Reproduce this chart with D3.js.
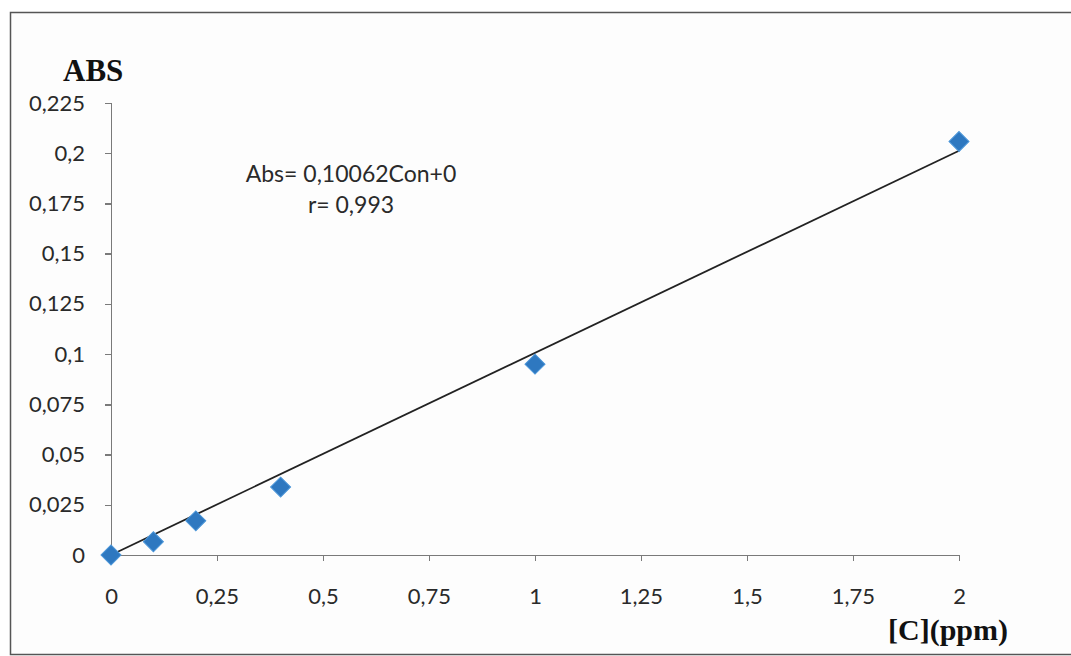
<html>
<head>
<meta charset="utf-8">
<title>ABS vs [C]</title>
<style>
  body { margin: 0; background: #fff; }
  .axis path, .axis line { fill: none; stroke: #7a7a7a; stroke-width: 1.5; shape-rendering: crispEdges; }
  .axis text { font-family: Lato, "Open Sans", sans-serif; font-size: 22px; fill: #2a2a2a; }
</style>
</head>
<body>
<script src="https://cdnjs.cloudflare.com/ajax/libs/d3/7.8.5/d3.min.js"></script>
<script>
var width = 1071, height = 656;

// data
var conc = [0, 0.1, 0.2, 0.4, 1, 2];
var absVals = [0, 0.0066, 0.017, 0.0338, 0.095, 0.2058];
var xTicks = [0, 0.25, 0.5, 0.75, 1, 1.25, 1.5, 1.75, 2];
var yTicks = [0, 0.025, 0.05, 0.075, 0.1, 0.125, 0.15, 0.175, 0.2, 0.225];
var slope = 0.10062, intercept = 0;
var eqLines = ["Abs= 0,10062Con+0", "r= 0,993"];

var svg = d3.select("body").append("svg")
    .attr("width", width)
    .attr("height", height);

// outer frame
svg.append("rect")
    .attr("x", 10.5).attr("y", 12.5)
    .attr("width", 1070).attr("height", 642)
    .attr("fill", "#fdfdfd")
    .attr("stroke", "#555").attr("stroke-width", 1.5);

var x = d3.scaleLinear().domain([0, 2]).range([111, 959]);
var y = d3.scaleLinear().domain([0, 0.225]).range([555, 103]);

var fmt = function(d) { return String(d).replace(".", ","); };

svg.append("g")
    .attr("class", "axis")
    .attr("transform", "translate(0," + y(0) + ")")
    .call(d3.axisBottom(x).tickValues(xTicks).tickFormat(fmt).tickSize(6).tickSizeOuter(6).tickPadding(27));

svg.append("g")
    .attr("class", "axis")
    .attr("transform", "translate(" + x(0) + ",0)")
    .call(d3.axisLeft(y).tickValues(yTicks).tickFormat(fmt).tickSize(6).tickSizeOuter(6).tickPadding(20));

// trend line
svg.append("line")
    .attr("x1", x(0)).attr("y1", y(intercept))
    .attr("x2", x(2)).attr("y2", y(intercept + slope * 2))
    .attr("stroke", "#222").attr("stroke-width", 1.8);

// data points (diamonds)
var diamond = d3.symbol().type(d3.symbolSquare).size(200);
svg.selectAll("path.pt")
    .data(conc)
    .enter().append("path")
    .attr("class", "pt")
    .attr("d", diamond)
    .attr("transform", function(d, i) {
        return "translate(" + x(d) + "," + y(absVals[i]) + ") rotate(45)";
    })
    .attr("fill", "#2e78c0")
    .attr("stroke", "#4a95d8").attr("stroke-width", 1);

// equation
svg.selectAll("text.eq")
    .data(eqLines)
    .enter().append("text")
    .attr("class", "eq")
    .attr("x", 351)
    .attr("y", function(d, i) { return 182 + i * 31; })
    .attr("text-anchor", "middle")
    .style("font-family", "Lato, 'Open Sans', sans-serif")
    .style("font-size", "23px")
    .style("fill", "#2a2a2a")
    .text(function(d) { return d; });

// axis titles
svg.append("text")
    .attr("x", 63).attr("y", 81)
    .style("font-family", "'Liberation Serif', 'DejaVu Serif', serif")
    .style("font-weight", "bold").style("font-size", "31px")
    .style("fill", "#111")
    .text("ABS");

svg.append("text")
    .attr("x", 1008).attr("y", 640)
    .attr("text-anchor", "end")
    .style("font-family", "'Liberation Serif', 'DejaVu Serif', serif")
    .style("font-weight", "bold").style("font-size", "30px")
    .style("fill", "#111")
    .text("[C](ppm)");
</script>
</body>
</html>
